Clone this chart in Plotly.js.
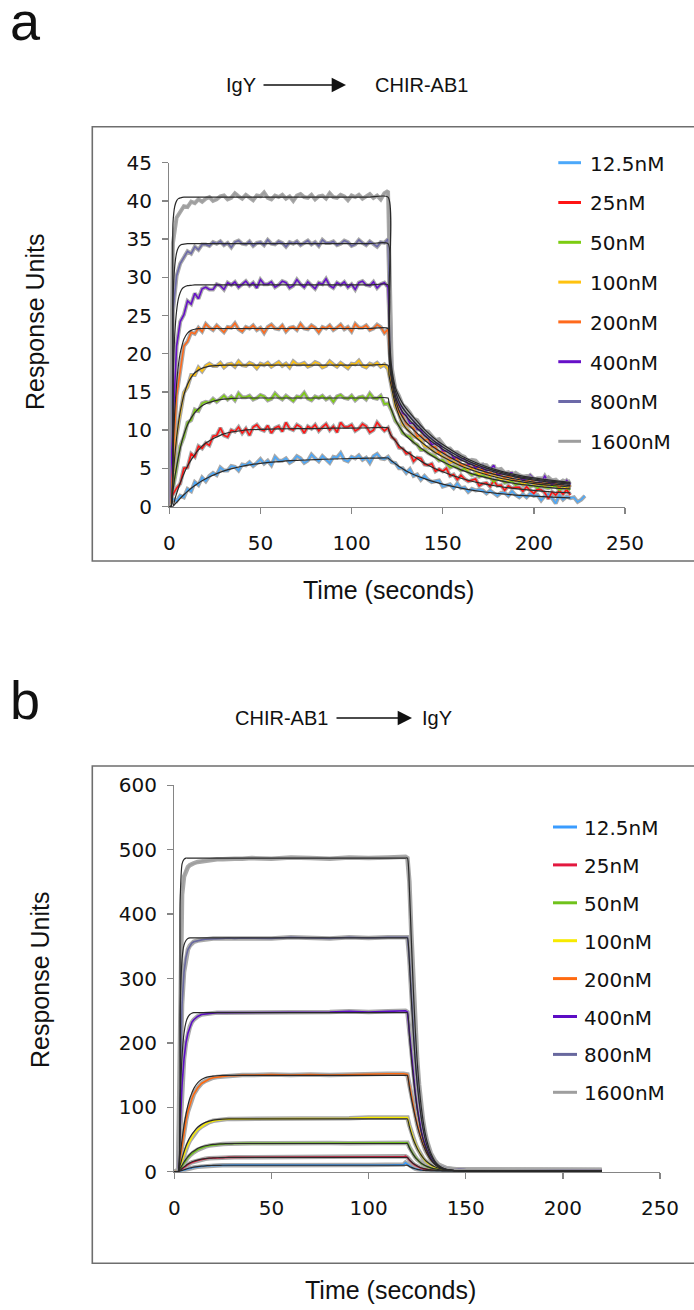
<!DOCTYPE html>
<html>
<head>
<meta charset="utf-8">
<script src="https://cdn.plot.ly/plotly-3.0.1.min.js"></script>
<style>html,body{margin:0;padding:0;background:#fff;}#chart{width:694px;height:1310px;}</style>
</head>
<body>
<div id="chart"></div>
<script>
// ---------- shared ----------
const concentrations = ['12.5nM','25nM','50nM','100nM','200nM','400nM','800nM','1600nM'];
const colorsA = ['#4ba8fa','#ff1414','#7ccc12','#ffc20e','#ff6a1c','#6610c8','#6c69a8','#9e9e9e'];
const colorsB = ['#3a9cff','#e3183f','#6fc21b','#f7ea00','#ff6a10','#5c0cc4','#68689e','#9e9e9e'];
const xTicks = [0,50,100,150,200,250];
const yTicksA = [0,5,10,15,20,25,30,35,40,45];
const yTicksB = [0,100,200,300,400,500,600];

// ---------- panel a : measured responses (time step 2 s) ----------
const tA = [0,2,4,6,8,10,12,14,16,18,20,22,24,26,28,30,32,34,36,38,40,42,44,46,48,50,52,54,56,58,60,62,64,66,68,70,72,74,76,78,80,82,84,86,88,90,92,94,96,98,100,102,104,106,108,110,112,114,116,118,120,122,124,126,128,130,132,134,136,138,140,142,144,146,148,150,152,154,156,158,160,162,164,166,168,170,172,174,176,178,180,182,184,186,188,190,192,194,196,198,200,202,204,206,208,210,212,214,216,218,220,222,224,226,228];

const a12 = [0.2,1.0,0.7,1.4,1.2,2.3,2.0,3.2,2.8,3.8,
3.3,4.0,4.4,4.1,5.1,4.7,4.7,5.3,5.2,4.7, 5.5,5.4,5.8,5.3,5.7,6.2,5.6,6.0,5.4,6.5, 6.0,6.0,6.3,5.7,6.0,6.6,6.3,5.7,6.0,6.8, 6.3,5.9,6.6,6.2,5.7,6.5,6.4,7.0,6.1,5.9, 6.5,6.3,6.7,6.1,6.4,5.7,6.6,6.9,6.3,6.2, 6.5,
5.8,5.7,5.0,5.0,4.4,
4.9,4.0,4.2,3.5,4.0,3.5,3.2,3.3,3.4,2.6, 2.8,2.9,2.4,3.0,2.4,2.5,1.9,2.3,2.1,2.2, 2.1,1.7,2.1,1.8,1.4,1.8,1.8,1.4,2.0,1.5, 1.2,1.6,1.2,1.7,1.4,1.5,0.8,1.4,1.6,1.1, 0.4,1.5,0.9,1.3,1.1,
1.2,0.6,0.9,1.4];
const a25 = [0.4,1.6,2.4,3.0,5.0,5.1,6.9,6.5,7.9,7.6,
8.3,8.0,9.2,9.3,10.3,9.3,9.1,10.0,9.8,10.4, 9.6,10.2,9.3,10.4,10.7,10.1,9.9,10.6,9.6,10.3, 10.5,9.8,11.0,10.2,10.0,10.7,10.4,9.6,10.5,10.2, 10.7,9.9,10.4,10.8,10.0,10.5,9.7,11.0,10.4,10.4, 10.7,9.9,10.2,10.8,10.5,9.7,10.0,11.0,10.4,9.9, 10.3,
9.1,8.7,7.7,7.6,6.9,
7.0,5.9,6.4,6.3,5.5,5.4,5.6,4.6,4.9,4.6, 5.0,4.0,4.2,3.5,4.1,3.6,3.3,3.5,3.6,2.7, 3.0,3.1,2.6,3.4,2.7,2.8,2.1,2.7,2.4,2.5, 2.5,2.0,2.6,2.1,1.7,2.3,2.2,1.8,1.0,1.9, 1.5,2.1,1.6,2.2,1.5,
null,null,null,null];
const a50 = [0.3,2.3,5.0,7.9,9.1,11.0,11.3,12.7,12.5,13.5,
13.7,13.6,14.1,13.7,14.1,14.5,14.0,14.4,13.9,14.8, 14.3,14.3,14.5,14.0,14.2,14.6,14.4,13.9,14.1,14.8, 14.3,14.0,14.5,14.2,13.8,14.4,14.3,14.9,14.1,13.9, 14.4,14.2,14.5,14.0,14.3,13.7,14.4,14.6,14.2,14.1, 14.5,13.9,14.3,14.4,14.0,14.8,14.2,14.1,14.5,13.4, 13.5,
12.5,11.2,10.6,9.6,9.3,
9.1,8.4,8.1,7.4,7.4,7.0,6.8,6.5,6.0,6.1, 5.6,5.1,5.3,5.1,4.7,5.0,4.5,4.1,4.3,3.9, 4.1,3.8,3.8,3.2,3.6,3.6,3.1,3.2,3.3,2.8, 3.1,2.9,3.2,2.6,2.8,2.4,2.8,2.5,2.4,2.6, 2.7,2.1,2.4,2.4,2.2,
null,null,null,null];
const a100 = [0.1,3.5,9.3,12.1,14.9,15.7,17.2,17.2,18.2,17.7,
18.4,18.7,18.4,18.4,18.8,18.2,18.6,18.7,18.3,19.0, 18.5,18.4,18.8,18.6,18.1,18.7,18.5,18.8,18.3,18.6, 18.9,18.4,18.7,18.2,19.0,18.6,18.6,18.8,18.3,18.5, 18.9,18.7,18.2,18.4,19.0,18.6,18.3,18.8,18.5,18.1, 18.7,18.6,19.1,18.4,18.2,18.7,18.5,18.8,18.3,18.6, 18.0,
15.6,13.1,12.1,10.7,10.3,
9.8,9.2,9.0,8.7,7.9,7.7,7.5,7.0,7.1,6.5, 6.3,5.7,5.9,5.5,5.4,5.2,4.8,5.0,4.6,4.2, 4.4,4.3,3.9,4.3,3.8,3.5,3.7,3.4,3.7,3.3, 3.4,2.8,3.2,3.3,2.9,2.9,3.1,2.6,2.9,2.7, 3.1,2.5,2.7,2.3,2.8,
null,null,null,null];
const a200 = [0.2,6.0,14.5,18.1,21.0,21.6,22.8,22.6,23.4,22.9,
23.9,23.4,23.1,23.7,23.3,22.8,23.5,23.4,24.0,23.2, 22.9,23.5,23.3,23.7,23.1,23.4,22.7,23.5,23.8,23.3, 23.2,23.7,22.9,23.4,23.5,23.1,23.9,23.3,23.2,23.7, 23.4,22.8,23.5,23.3,23.7,23.1,23.4,23.8,23.2,23.5, 22.9,23.9,23.4,23.4,23.7,23.1,23.3,23.8,23.5,22.7, 23.2,
16.3,14.2,12.4,11.9,10.8,
10.5,10.3,9.2,9.3,8.7,8.8,7.8,7.8,7.0,7.3, 6.7,6.3,6.3,6.2,5.4,5.5,5.5,5.0,5.4,4.8, 4.8,4.2,4.5,4.2,4.3,4.1,3.7,4.1,3.7,3.3, 3.7,3.6,3.2,3.7,3.2,2.9,3.2,2.9,3.3,2.9, 3.0,2.4,3.0,3.1,2.6,
null,null,null,null];
const a400 = [0.3,11.5,21.0,24.2,25.1,26.9,26.5,27.9,27.2,28.5,
28.7,28.4,28.4,29.1,28.9,28.4,29.3,29.0,29.4,28.7, 29.1,29.5,28.9,29.3,28.6,29.7,29.1,29.1,29.4,28.7, 29.0,29.5,29.3,28.6,28.9,29.7,29.1,28.7,29.4,29.0, 28.5,29.3,29.1,29.8,28.9,28.6,29.3,29.0,29.4,28.7, 29.1,28.4,29.3,29.5,29.0,28.9,29.4,28.6,29.1,29.3, 28.7,
17.2,14.3,13.4,12.2,11.9,
10.9,10.9,10.1,10.0,9.3,9.0,8.1,8.3,8.1,7.3, 7.2,7.2,6.3,6.5,6.1,6.3,5.5,5.6,5.0,5.4, 5.0,4.7,4.8,5.4,4.1,4.3,4.3,4.4,4.4,3.8, 3.9,3.4,3.7,4.1,3.6,3.5,3.2,4.0,3.2,2.9, 3.2,3.2,2.9,3.4,2.9,
null,null,null,null];
const a800 = [0.1,25.5,30.2,31.8,32.6,33.4,33.1,34.0,33.6,34.3,
34.3,34.1,34.6,34.4,34.7,34.2,34.5,33.9,34.6,34.8, 34.4,34.3,34.7,34.1,34.5,34.6,34.2,34.9,34.4,34.3, 34.7,34.5,34.0,34.6,34.4,34.7,34.2,34.5,34.8,34.3, 34.6,34.1,34.9,34.5,34.5,34.7,34.2,34.4,34.8,34.6, 34.1,34.3,34.9,34.5,34.2,34.7,34.4,34.0,34.6,34.5, 35.0,
17.6,15.1,13.6,13.0,12.2,
11.8,11.3,10.6,10.5,9.7,9.1,9.0,8.4,8.3,7.8, 7.6,6.9,7.0,6.8,6.3,6.1,6.1,5.5,5.6,5.4, 5.5,4.9,5.0,4.5,4.8,4.4,4.2,4.3,4.3,3.8, 3.9,3.9,3.6,4.0,3.6,3.6,3.3,3.5,3.3,3.4, 3.3,3.1,3.3,3.1,2.8,
null,null,null,null];
const a1600 = [0.2,34.5,37.8,38.6,39.3,39.2,39.9,39.7,40.2,39.9,
40.3,40.5,40.0,40.2,40.6,40.7,40.2,40.4,41.0,40.6, 40.3,40.8,40.5,40.1,40.7,40.6,41.1,40.4,40.2,40.7, 40.5,40.8,40.3,40.6,40.0,40.7,40.9,40.5,40.4,40.8, 40.2,40.6,40.7,40.3,41.0,40.5,40.4,40.8,40.6,40.1, 40.7,40.5,40.8,40.3,40.6,40.9,40.4,40.7,40.2,41.0, 41.3,
18.2,15.4,14.5,13.3,12.9,
12.3,11.5,11.3,10.6,9.9,9.8,9.3,8.7,8.8,8.1, 7.6,7.6,7.1,7.1,6.7,6.5,5.9,6.1,6.0,5.5, 5.4,5.4,4.9,5.0,4.8,4.9,4.4,4.5,4.1,4.4, 4.1,3.9,4.0,4.0,3.5,3.7,3.7,3.4,3.8,3.4, 3.5,3.1,3.4,3.2,3.3,
null,null,null,null];

// ---------- panel a : fitted curves ----------
const tFa = [0,1,2,3,4,5,6,7,8,10,12,14,16,18,20,23,26,30,35,40,45,50,60,70,80,90,100,110,120,120.5,121,122,124,126,128,130,135,140,145,150,160,170,180,190,200,210,220];
const fa12 = [0,0,0,0.28,0.55,0.81,1.07,1.31,1.54, 1.98,2.38,2.74,3.07,3.37,3.64, 4.0,4.31,4.66,5.0,5.27,5.48,5.65, 5.88,6.03,6.14,6.22,6.28,6.32,6.35, 6.25,6.15,5.95,5.6,5.25,4.95,4.65, 4.1,3.65,3.25,2.92, 2.4,2.0,1.72,1.5,1.35,1.23,1.14];
const fa25 = [0,0,0,0.9,1.7,2.4,3.1,3.7,4.3, 5.3,6.1,6.8,7.4,7.9,8.3, 8.75,9.1,9.5,9.78,9.95,10.05,10.1, 10.15,10.2,10.2,10.25,10.25,10.3,10.3, 9.9,9.6,9.2,8.6,8.0,7.55,7.2, 6.4,5.65,5.05,4.55, 3.7,3.1,2.65,2.35,2.1,1.9,1.78];
const fa50 = [0,0,2.0,3.8,5.2,6.5,7.6,8.6,9.4, 10.7,11.6,12.3,12.8,13.2,13.45, 13.7,13.9,14.05,14.15,14.2,14.2,14.2, 14.2,14.2,14.2,14.2,14.2,14.2,14.2, 13.6,13.2,12.6,11.4,10.5,9.8,9.2, 8.2,7.3,6.5,5.85, 4.8,4.0,3.45,3.0,2.7,2.45,2.3];
const fa100 = [0,0,3.7,6.6,9.0,10.9,12.4,13.6,14.6, 16.0,16.9,17.5,17.85,18.1,18.25, 18.4,18.45,18.5,18.5,18.5,18.5,18.5, 18.5,18.5,18.5,18.5,18.5,18.5,18.5, 17.3,16.6,15.5,13.3,11.9,10.9,10.2, 9.1,8.1,7.2,6.5, 5.3,4.45,3.8,3.35,3.0,2.75,2.55];
const fa200 = [0,0,7,12.5,16,18.5,20.1,21.1,21.9, 22.7,23.05,23.2,23.27,23.3,23.3, 23.3,23.3,23.3,23.3,23.3,23.3,23.3, 23.3,23.3,23.3,23.3,23.3,23.3,23.3, 20,18.2,16.4,14.0,12.6,11.7,11.0, 9.8,8.7,7.75,7.0, 5.7,4.8,4.1,3.6,3.2,2.95,2.72];
const fa400 = [0,0,16,22.5,25.6,27.2,28.0,28.5,28.7, 28.9,28.95,29,29,29,29, 29,29,29,29,29,29,29, 29,29,29,29,29,29,29, 23,19.5,17.0,14.5,13.2,12.4,11.8, 10.5,9.3,8.3,7.5, 6.1,5.1,4.4,3.85,3.45,3.15,2.92];
const fa800 = [0,0,27,31.5,33.2,33.9,34.2,34.3,34.35, 34.4,34.4,34.4,34.4,34.4,34.4, 34.4,34.4,34.4,34.4,34.4,34.4,34.4, 34.4,34.4,34.4,34.4,34.4,34.4,34.4, 25,20,17.6,15.1,13.8,12.9,12.3, 10.9,9.7,8.6,7.8, 6.4,5.35,4.6,4.0,3.6,3.3,3.05];
const fa1600 = [0,0,37.0,39.3,40.0,40.3,40.4,40.45,40.5, 40.5,40.5,40.5,40.5,40.5,40.5, 40.5,40.5,40.5,40.5,40.5,40.5,40.5, 40.5,40.5,40.5,40.5,40.5,40.5,40.5, 28,21.5,18.2,15.6,14.4,13.5,12.8, 11.4,10.1,9.0,8.1, 6.65,5.57,4.77,4.17,3.74,3.42,3.17];

// ---------- panel b : measured responses ----------
const tB = [0,1,2,3,4,5,6,7,8,9,10,12,14,16,18,20,22,25,28,31,35,40,50,60,70,80,90,100,110,118,119,120,121,122,123,124,125,126,127,128,129,130,132,134,136,138,140,143,146,150,160,180,200,220];
const b12 = [0,0,0,0.8,1.8,2.8,3.7,4.5,5.2,5.9,6.5, 7.5,8.3,8.9,9.3,9.6,9.8, 10,10.1,10.2,10.2, 10.3,10.2,10.4,10.3,10.4,10.3,10.5,10.4, 11,14,12, 9,7,5.5,4.5,3.6,3,2.6,2.3,2.1,2, 1.9,1.9,1.8,1.8,1.8, 1.8,1.7,1.7, 1.7,1.7,1.6,1.6];
const b25 = [0,0,0,2,4.5,7,9,11,13,14.5,15.5, 17.5,19,20,20.8,21.3,21.6, 22,22.2,22.3,22.3, 22.4,22.3,22.5,22.4,22.5,22.4,22.6,22.5, 23,24,22, 18,14.5,12,10,8,6.5,5.3,4.4,3.8,3.3, 2.8,2.6,2.5,2.4,2.4, 2.3,2.3,2.3, 2.2,2.2,2.2,2.1];
const b50 = [0,0,0.3,4,9,14,18,22,25,28,30, 34,37,39,40.5,41.5,42, 43,43.5,44,44, 44,44,44.5,44,44.5,44,44.5,45, 45,45,45, 38,32,27,23,19,16,13,11,9,7.5, 5.5,4.2,3.5,3.1,2.9, 2.7,2.6,2.6, 2.5,2.4,2.4,2.3];
const b100 = [0,0,0.5,8,18,27,35,42,48,53,58, 65,70,74,77,79,80, 81,82,82,82, 82,83,82,83,83,83,84,84, 84,84,84, 72,61,52,44,37,31,26,21,17.5,14.5, 10,7,5,4,3.4, 3.0,2.8,2.7, 2.6,2.5,2.5,2.4];
const b200 = [0,0,1,20,42,62,79,93,104,113,120, 130,137,141,144,146,147, 148,149,149,150, 150,151,150,151,150,151,151,152, 152,152,151, 135,118,102,87,74,62,52,43,35,29, 19,12.5,8,5.5,4.2, 3.5,3.2,3.0, 2.9,2.7,2.6,2.5];
const b400 = [0,0,2,70,135,175,200,215,225,232,236, 241,244,245,246,246,247, 247,247,248,247, 248,247,248,247,248,249,248,249, 249,250,248, 215,180,150,123,100,81,65,52,42,34, 21,13,8.5,6,4.6, 3.8,3.3,3.0, 2.9,2.7,2.6,2.5];
const b800 = [0,0,3,150,260,310,333,345,351,355,357, 359,360,361,361,362,362, 362,363,362,363, 363,362,364,363,362,364,363,364, 364,365,364, 330,272,220,176,140,110,87,68,53,42, 26,16,10,7,5.2, 4,3.5,3.2, 3.0,2.8,2.6,2.5];
const b1600 = [0,0,5,300,430,458,468,473,476,478,479, 481,482,483,484,484,485, 485,486,486,486, 487,486,488,487,486,488,487,488, 488,489,487, 450,370,290,225,175,135,104,80,62,48, 29,18,11,7.5,5.5, 4.2,3.6,3.3, 3.0,2.8,2.6,2.5];

// ---------- panel b : fitted curves ----------
const fb12 = [0,0,0,1,2,3,4,4.9,5.7,6.4,7, 8,8.7,9.2,9.5,9.7,9.8, 10,10,10,10, 10,10,10,10,10,10,10,10, 10,10,10, 8.2,6.7,5.5,4.5,3.7,3.1,2.6,2.2,1.9,1.7, 1.4,1.2,1.1,1,1, 1,1,1, 1,1,1,1];
const fb25 = [0,0,0,2.3,5,7.5,9.8,11.8,13.5,15,16.2, 18,19.4,20.4,21,21.4,21.7, 22,22.1,22.2,22.2, 22.2,22.2,22.2,22.2,22.2,22.2,22.2,22.2, 22.2,22.2,22.2, 18.5,15.4,12.8,10.7,8.9,7.4,6.2,5.2,4.4,3.7, 2.8,2.1,1.7,1.4,1.2, 1.1,1,1, 1,1,1,1];
const fb50 = [0,0,0,5,10,15,19.5,23.5,27,30,32, 36,38.5,40.3,41.5,42.3,42.8, 43.3,43.6,43.8,43.8, 43.8,43.8,43.8,43.8,43.8,43.8,43.8,43.8, 43.8,43.8,43.8, 37,31.3,26.5,22.4,19,16,13.5,11.4,9.7,8.2, 5.9,4.3,3.2,2.5,2, 1.6,1.3,1.2, 1.1,1,1,1];
const fb100 = [0,0,0,10,21,31,40,47,53,58,62, 69,73.5,76.5,78.5,80,80.8, 81.5,82,82,82, 82,82,82,82,82,82,82,82, 82,82,82, 70,59.5,50.5,43,36.5,31,26,22,18.5,15.5, 11,7.8,5.5,4,3, 2.1,1.6,1.3, 1.1,1,1,1];
const fb200 = [0,0,0,25,50,72,89,103,114,122,129, 138,143,146,147.5,148.5,149, 149.5,149.5,149.5,149.5, 149.5,149.5,149.5,149.5,149.5,149.5,149.5,149.5, 149.5,149.5,149.5, 131,114,99,85,72,61,51,42,35,28.5, 18.5,12,7.5,4.8,3.3, 2.1,1.5,1.3, 1.1,1,1,1];
const fb400 = [0,0,0,110,180,215,232,240,244,246,247, 247,247,247,247,247,247, 247,247,247,247, 247,247,247,247,247,247,247,247, 247,247,247, 212,177,147,121,98,79,63,51,41,33, 20,12,7.5,4.8,3.3, 2.1,1.5,1.3, 1.1,1,1,1];
const fb800 = [0,0,0,250,330,352,359,362,363,363,363, 363,363,363,363,363,363, 363,363,363,363, 363,363,363,363,363,363,363,363, 363,363,363, 325,268,216,173,138,109,86,67,52,41, 25,15,9,5.5,3.5, 2.1,1.5,1.3, 1.1,1,1,1];
const fb1600 = [0,0,0,420,478,485,487,487,487,487,487, 487,487,487,487,487,487, 487,487,487,487, 487,487,487,487,487,487,487,487, 487,487,487, 440,360,285,222,172,133,103,80,62,48, 29,17,10,6,3.8, 2.2,1.6,1.3, 1.1,1,1,1];

// ---------- build ----------
const W = 694, H = 1310;
const px = x => x / W, py = y => 1 - y / H;

const dataA = [a12,a25,a50,a100,a200,a400,a800,a1600];
const fitA  = [fa12,fa25,fa50,fa100,fa200,fa400,fa800,fa1600];
const dataB = [b12,b25,b50,b100,b200,b400,b800,b1600];
const fitB  = [fb12,fb25,fb50,fb100,fb200,fb400,fb800,fb1600];

const traces = [];
function addPanel(t, tf, data, fits, colors, xa, ya, shadowW, lineW) {
  data.forEach(d => traces.push({x:t, y:d, xaxis:xa, yaxis:ya, type:'scatter', mode:'lines',
    line:{color:'#a9a9a9', width:shadowW}, hoverinfo:'skip', showlegend:false, connectgaps:false}));
  data.forEach((d,i) => traces.push({x:t, y:d, xaxis:xa, yaxis:ya, type:'scatter', mode:'lines',
    line:{color:colors[i], width:lineW}, hoverinfo:'skip', showlegend:false, connectgaps:false}));
  fits.forEach(f => traces.push({x:tf, y:f, xaxis:xa, yaxis:ya, type:'scatter', mode:'lines',
    line:{color:'#2a2a2a', width:1.2, shape:'spline', smoothing:0.6}, hoverinfo:'skip', showlegend:false}));
}
addPanel(tA, tFa, dataA, fitA, colorsA, 'x', 'y', 4, 1.6);
addPanel(tB, tB, dataB, fitB, colorsB, 'x2', 'y2', 4.5, 1.6);

const tickFont = {family:'DejaVu Sans, Verdana, sans-serif', size:20, color:'#111'};
function axis(domain, range, ticks, anchor, standoff) {
  return {domain:domain, range:range, tickmode:'array', tickvals:ticks, ticktext:ticks.map(String),
    showline:true, linecolor:'#858585', linewidth:1.3, ticks:'outside', ticklen:6, tickwidth:1.3,
    tickcolor:'#858585', showgrid:false, zeroline:false, tickfont:tickFont, anchor:anchor,
    ticklabelstandoff:standoff, fixedrange:true};
}

const layout = {
  width:W, height:H, margin:{l:0,r:0,t:0,b:0}, paper_bgcolor:'#fff', plot_bgcolor:'rgba(0,0,0,0)',
  showlegend:false,
  xaxis: axis([px(169.3), px(625)], [0,250], xTicks, 'y', 12),
  yaxis: axis([py(506.5), py(162.7)], [0,45], yTicksA, 'x', 6),
  xaxis2: axis([px(174.3), px(660)], [0,250], xTicks, 'y2', 12),
  yaxis2: axis([py(1171.7), py(785.3)], [0,600], yTicksB, 'x2', 6),
  shapes: [], annotations: []
};

const labFont = {family:'Liberation Sans, Arial, sans-serif', size:25, color:'#111'};
const ttlFont = {family:'Liberation Sans, Arial, sans-serif', size:20, color:'#111'};
const ann = (text,x,y,font,extra) => Object.assign({text:text, x:px(x), y:py(y), xref:'paper', yref:'paper',
  showarrow:false, font:font, xanchor:'center', yanchor:'middle'}, extra||{});

// frames
layout.shapes.push({type:'rect', xref:'paper', yref:'paper', x0:px(92.3), x1:px(704), y0:py(561), y1:py(126.7),
  line:{color:'#6e6e6e', width:1.6}, fillcolor:'rgba(0,0,0,0)', layer:'below'});
layout.shapes.push({type:'rect', xref:'paper', yref:'paper', x0:px(92.3), x1:px(704), y0:py(1263.3), y1:py(766),
  line:{color:'#6e6e6e', width:1.6}, fillcolor:'rgba(0,0,0,0)', layer:'below'});

// panel letters
const letterFont = {family:'Liberation Sans, Arial, sans-serif', size:54, color:'#111'};
layout.annotations.push(ann('a', 25, 21, letterFont));
layout.annotations.push(ann('b', 25, 700, letterFont));

// titles with arrows
function arrowTitle(left, right, xLeftEnd, xArrow0, xArrow1, xRightStart, y) {
  layout.annotations.push(ann(left, xLeftEnd, y, ttlFont, {xanchor:'right'}));
  layout.annotations.push(ann(right, xRightStart, y, ttlFont, {xanchor:'left'}));
  layout.annotations.push({x:px(xArrow1), y:py(y), xref:'paper', yref:'paper', ax:xArrow0 - xArrow1, ay:0,
    axref:'pixel', ayref:'pixel', showarrow:true, arrowhead:2, arrowsize:2.2, arrowwidth:1.3, arrowcolor:'#111', text:''});
}
arrowTitle('IgY', 'CHIR-AB1', 258, 262, 346, 373, 85);
arrowTitle('CHIR-AB1', 'IgY', 330, 335, 412, 420, 718);

// axis titles
layout.annotations.push(ann('Response Units', 35, 322, labFont, {textangle:-90}));
layout.annotations.push(ann('Time (seconds)', 388, 590, labFont));
layout.annotations.push(ann('Response Units', 40, 980, labFont, {textangle:-90}));
layout.annotations.push(ann('Time (seconds)', 390, 1290, labFont));

// legends
const legFont = {family:'DejaVu Sans, Verdana, sans-serif', size:20, color:'#111'};
function legend(colors, x0, x1, xt, y0, dy) {
  concentrations.forEach((name,i) => {
    const y = y0 + i*dy;
    layout.shapes.push({type:'line', xref:'paper', yref:'paper', x0:px(x0), x1:px(x1), y0:py(y), y1:py(y),
      line:{color:colors[i], width:3}});
    layout.annotations.push(ann(name, xt, y + 1, legFont, {xanchor:'left'}));
  });
}
legend(colorsA, 558.3, 581, 588.3, 162.7, 39.8);
legend(colorsB, 553, 577, 582, 827, 37.9);

Plotly.newPlot('chart', traces, layout, {displayModeBar:false, staticPlot:true});
</script>
</body>
</html>
